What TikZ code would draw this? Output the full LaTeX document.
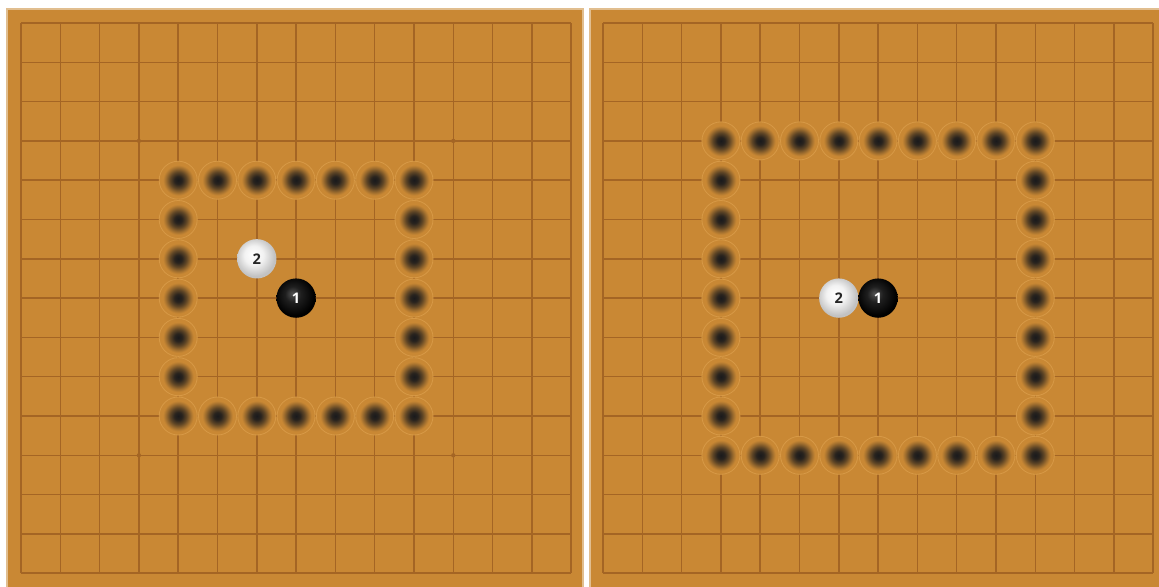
\documentclass[tikz,border=0pt]{standalone}
\usepackage{fontspec}
\newfontfamily\stonefont{Open Sans}
\usepackage{xcolor}
\definecolor{boardc}{RGB}{201,136,52}
\definecolor{gridc}{RGB}{164,101,36}
\definecolor{ringc}{RGB}{215,153,70}
\definecolor{holec}{RGB}{26,26,28}
\pgfdeclareradialshading{hole}{\pgfpoint{0bp}{0bp}}{color(0bp)=(holec); color(5bp)=(holec!92!boardc); color(11bp)=(holec!60!boardc); color(16bp)=(holec!25!boardc); color(20bp)=(boardc); color(50bp)=(boardc)}
\pgfdeclareradialshading{whitestone}{\pgfpoint{-5bp}{6bp}}{color(0bp)=(white); color(12bp)=(white!95!black); color(25bp)=(black!24); color(50bp)=(black!24)}
\pgfdeclareradialshading{blackstone}{\pgfpoint{-5bp}{6bp}}{color(0bp)=(black!68); color(10bp)=(black!88); color(25bp)=(black); color(50bp)=(black)}

\begin{document}
\begin{tikzpicture}[
    x=0.03cm, y=-0.03cm,
    board/.style={fill=boardc, draw=boardc!55!white, line width=1pt},
    grid/.style={draw=gridc, line width=1.25pt},
    star/.style={circle, fill=gridc, inner sep=0pt, minimum size=0.13cm},
    hole/.style={circle, inner sep=0pt, minimum size=1.14cm, shading=hole, draw=ringc, line width=0.7pt},
    stone/.style={circle, inner sep=0pt, minimum size=1.18cm, font=\stonefont\bfseries\fontsize{12.5}{12.5}\selectfont},
    wstone/.style={stone, shading=whitestone, text=black!85},
    bstone/.style={stone, shading=blackstone, text=white}
  ]

  \useasboundingbox (0,0) rectangle (1159,586);
  \clip (0,0) rectangle (1159,586);
  \fill[white] (0,0) rectangle (1159,586);

  \draw[board] (7,9) rectangle (583,600);
  \draw[board] (590,9) rectangle (1170,600);

  \foreach \bx in {21,603} {
    \foreach \i in {0,...,14} {
      \draw[grid] ({\bx+\i*39.3},23) -- ({\bx+\i*39.3},573);
      \draw[grid] (\bx,{23+\i*39.3}) -- ({\bx+550},{23+\i*39.3});
    }
    \foreach \c/\r in {3/3,11/3,3/11,11/11}
      \node[star] (s\bx-\c-\r) at ({\bx+\c*39.3},{23+\r*39.3}) {};
  }

  % left board
  \foreach \k in {4,...,10} {
    \node[hole] (lt\k) at ({21+\k*39.3},{23+4*39.3}) {};
    \node[hole] (lb\k) at ({21+\k*39.3},{23+10*39.3}) {};
  }
  \foreach \k in {5,...,9} {
    \node[hole] (ll\k) at ({21+4*39.3},{23+\k*39.3}) {};
    \node[hole] (lr\k) at ({21+10*39.3},{23+\k*39.3}) {};
  }
  \node[wstone] (lwhite) at ({21+6*39.3},{23+6*39.3}) {2};
  \node[bstone] (lblack) at ({21+7*39.3},{23+7*39.3}) {1};

  % right board
  \foreach \k in {3,...,11} {
    \node[hole] (rt\k) at ({603+\k*39.3},{23+3*39.3}) {};
    \node[hole] (rb\k) at ({603+\k*39.3},{23+11*39.3}) {};
  }
  \foreach \k in {4,...,10} {
    \node[hole] (rl\k) at ({603+3*39.3},{23+\k*39.3}) {};
    \node[hole] (rr\k) at ({603+11*39.3},{23+\k*39.3}) {};
  }
  \node[wstone] (rwhite) at ({603+6*39.3},{23+7*39.3}) {2};
  \node[bstone] (rblack) at ({603+7*39.3},{23+7*39.3}) {1};

\end{tikzpicture}
\end{document}
